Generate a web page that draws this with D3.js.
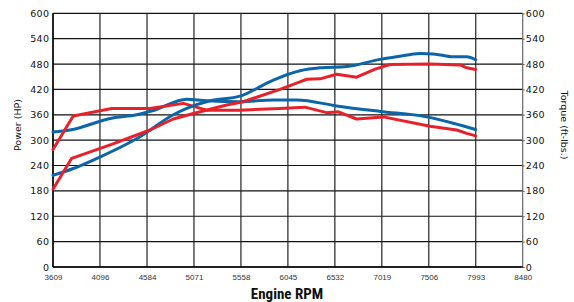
<!DOCTYPE html>
<html><head><meta charset="utf-8">
<script src="https://cdn.jsdelivr.net/npm/d3@7"></script>
<style>body{margin:0;background:#fff}svg{display:block}</style>
</head><body>
<script>
const xTicks = [3609,4096,4584,5071,5558,6045,6532,7019,7506,7993,8480];
const yTicks = [0,60,120,180,240,300,360,420,480,540,600];

const redHP = [[3609,184],[3803,257],[4217,290],[4615,324],[4857,350],[5064,363],[5410,383],[5582,391],[5963,420],[6170,438],[6240,444],[6378,445],[6551,456],[6758,449],[6950,468],[7104,479],[7519,480],[7830,478],[7899,471],[7993,467]];
const redTQ = [[3609,278],[3819,357],[4217,375],[4615,375],[4960,387],[5203,371],[5548,371],[5963,375],[6222,378],[6447,365],[6568,367],[6758,350],[7034,355],[7519,333],[7796,324],[7899,316],[7993,310]];
const blueHP = [[3609,217],[3819,233],[4027,253],[4511,308],[4857,360],[4996,375],[5237,393],[5548,404],[5894,442],[6170,464],[6378,471],[6655,474],[7000,491],[7172,497],[7415,505],[7553,504],[7760,497],[7899,497],[7993,490]];
const blueTQ = [[3609,319],[3785,324],[4217,352],[4477,360],[4650,370],[4996,397],[5203,393],[5548,391],[5894,395],[6136,395],[6551,381],[7000,368],[7484,355],[7760,340],[7993,325]];

const W=574,H=302;
const svg=d3.select("body").append("svg").attr("width",W).attr("height",H);
const x=d3.scaleLinear().domain([3609,8480]).range([53,522.7]);
const y=d3.scaleLinear().domain([0,600]).range([267,13.3]);

const g=svg.append("g");
g.selectAll("line.h").data(yTicks).join("line").attr("class","h")
 .attr("x1",x(3609)).attr("x2",x(8480)).attr("y1",d=>y(d)).attr("y2",d=>y(d))
 .attr("stroke","#111").attr("stroke-width",1.2);
g.selectAll("line.v").data(xTicks).join("line").attr("class","v")
 .attr("x1",d=>x(d)).attr("x2",d=>x(d)).attr("y1",y(0)).attr("y2",y(600))
 .attr("stroke",(d,i)=>i===xTicks.length-1?"#666":"#222").attr("stroke-width",1.2);
g.append("line").attr("x1",x(3609)).attr("x2",x(3609)).attr("y1",y(0)).attr("y2",y(600)).attr("stroke","#000").attr("stroke-width",1.4);
g.append("line").attr("x1",x(3609)).attr("x2",x(8480)).attr("y1",y(0)).attr("y2",y(0)).attr("stroke","#000").attr("stroke-width",1.4);

const yFont='"DejaVu Sans", sans-serif';
const leftAxis=d3.axisLeft(y).tickValues(yTicks).tickSize(0).tickPadding(3).tickFormat(d3.format("d"));
const la=svg.append("g").attr("transform",`translate(${x(3609)-0.5},0)`).call(leftAxis);
la.select(".domain").remove();
la.selectAll("text").attr("font-family",yFont).attr("font-size",9.5).attr("fill","#111").attr("letter-spacing",0.4);

const rightAxis=d3.axisRight(y).tickValues(yTicks).tickSize(2).tickPadding(1).tickFormat(d3.format("d"));
const ra=svg.append("g").attr("transform",`translate(${x(8480)},0)`).call(rightAxis);
ra.select(".domain").remove();
ra.selectAll("line").attr("stroke","#666");
ra.selectAll("text").attr("font-family",yFont).attr("font-size",9.5).attr("fill","#111").attr("letter-spacing",0.4);

const bottomAxis=d3.axisBottom(x).tickValues(xTicks).tickSize(0).tickPadding(7).tickFormat(d3.format("d"));
const ba=svg.append("g").attr("transform",`translate(0,${y(0)})`).call(bottomAxis);
ba.select(".domain").remove();
ba.selectAll("text").attr("font-family","Arial, 'Liberation Sans', sans-serif").attr("font-size",8).attr("fill","#333");

const smooth=d3.line().x(d=>x(d[0])).y(d=>y(d[1])).curve(d3.curveMonotoneX);
const straight=d3.line().x(d=>x(d[0])).y(d=>y(d[1])).curve(d3.curveLinear);
const series=[[blueTQ,"#0a66a8",smooth],[redTQ,"#e8202a",straight],[blueHP,"#0a66a8",smooth],[redHP,"#e8202a",straight]];
svg.selectAll("path.s").data(series).join("path").attr("class","s")
 .attr("d",d=>d[2](d[0])).attr("fill","none").attr("stroke",d=>d[1])
 .attr("stroke-width",3).attr("stroke-linejoin","round").attr("stroke-linecap","round");

svg.append("text").attr("x",287).attr("y",299).attr("text-anchor","middle")
 .attr("font-family","'Liberation Sans Narrow','Roboto Condensed',Arial,sans-serif").attr("font-weight","bold")
 .attr("font-size",15).attr("fill","#111").text("Engine RPM");
svg.append("text").attr("transform","translate(21,125) rotate(-90)").attr("text-anchor","middle")
 .attr("font-family",yFont).attr("font-size",9.5).attr("fill","#111").text("Power (HP)");
svg.append("text").attr("transform","translate(561,125) rotate(90)").attr("text-anchor","middle")
 .attr("font-family",yFont).attr("font-size",9.5).attr("fill","#111").text("Torque (ft-lbs.)");
</script>
</body></html>
